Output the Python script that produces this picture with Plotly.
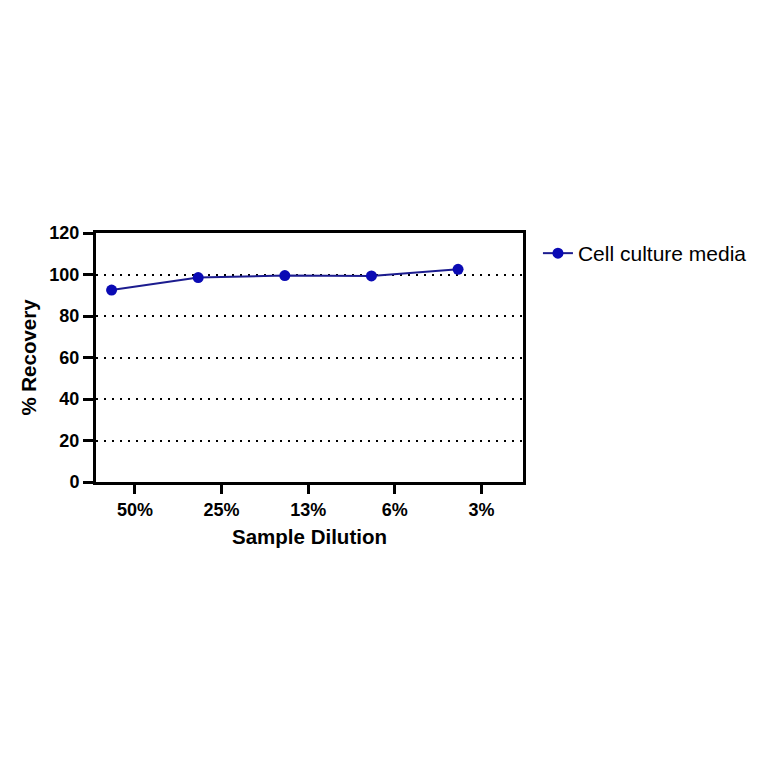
import plotly.graph_objects as go

dilutions = ["50%", "25%", "13%", "6%", "3%"]
recovery = [92.5, 98.5, 99.5, 99.3, 102.5]
point_shift = -0.27  # points sit left of their tick labels in the original

tick_pos = list(range(len(dilutions)))
point_x = [p + point_shift for p in tick_pos]

fig = go.Figure(
    go.Scatter(
        x=point_x, y=recovery, mode="lines+markers", name="Cell culture media",
        line=dict(color="#1c1c8f", width=2),
        marker=dict(color="#0a0ab4", size=11),
    )
)

axis_font = dict(family="Liberation Sans, Arial", size=18, color="black")
title_font = dict(family="Liberation Sans, Arial", size=20.5, color="black")

# page body adds 8px, so margins are shifted to compensate
fig.update_layout(
    width=764, height=764,
    margin=dict(l=88, r=249, t=225, b=290),
    paper_bgcolor="white", plot_bgcolor="white",
    font=dict(family="Liberation Sans, Arial", color="black"),
    showlegend=True,
    legend=dict(x=1.035, y=1.0, xanchor="left", yanchor="top", itemwidth=30,
                font=dict(size=21, color="black"), bgcolor="rgba(0,0,0,0)"),
    xaxis=dict(
        range=[-0.45, 4.48], tickvals=tick_pos, ticktext=[f"<b>{d}</b>" for d in dilutions],
        showline=True, linecolor="black", linewidth=3, mirror=True,
        ticks="outside", ticklen=9, tickwidth=3, tickcolor="black",
        showgrid=False, zeroline=False, tickfont=axis_font, automargin=False,
        title=dict(text="<b>Sample Dilution</b>", font=title_font, standoff=12),
    ),
    yaxis=dict(
        range=[0, 120], tickvals=[0, 20, 40, 60, 80, 100, 120],
        ticktext=[f"<b>{v}</b>" for v in [0, 20, 40, 60, 80, 100, 120]],
        showline=True, linecolor="black", linewidth=3, mirror=True,
        ticks="outside", ticklen=10, tickwidth=3, tickcolor="black",
        showgrid=True, gridcolor="black", gridwidth=2, griddash="2px,6px",
        zeroline=False, tickfont=axis_font, automargin=False,
        title=dict(text="<b>% Recovery</b>", font=title_font, standoff=8),
    ),
)

fig.write_html("out.html")
